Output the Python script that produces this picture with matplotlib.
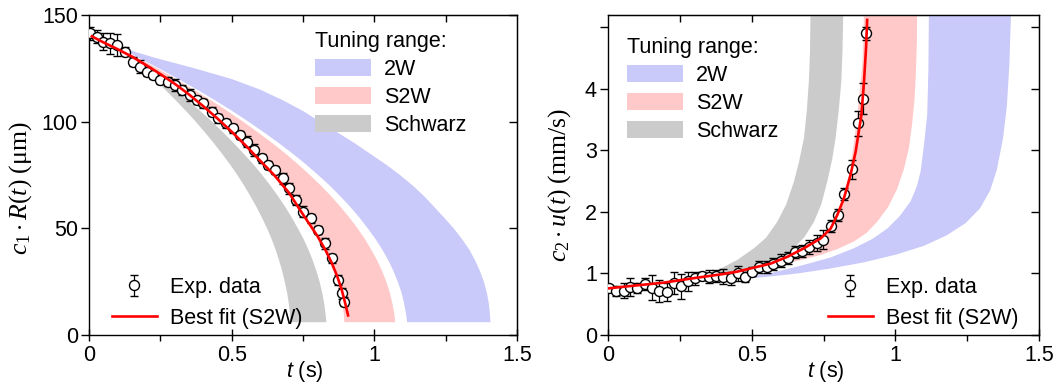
import numpy as np
import matplotlib
matplotlib.use("Agg")
import matplotlib.pyplot as plt
from matplotlib.patches import Patch

plt.rcParams['font.family'] = ['Liberation Sans', 'DejaVu Sans']
plt.rcParams['mathtext.fontset'] = 'custom'
plt.rcParams['mathtext.rm'] = 'Liberation Serif'
plt.rcParams['mathtext.it'] = 'Liberation Serif:italic'
plt.rcParams['mathtext.sf'] = 'Liberation Sans:italic'

# ---------------- data: left panel (radius) ----------------
t_R = [0.004, 0.027, 0.050, 0.074, 0.097, 0.126, 0.155, 0.179, 0.202, 0.225,
       0.249, 0.278, 0.301, 0.325, 0.354, 0.377, 0.401, 0.430, 0.453, 0.480,
       0.506, 0.529, 0.553, 0.578, 0.605, 0.628, 0.652, 0.679, 0.702, 0.726,
       0.751, 0.777, 0.804, 0.827, 0.851, 0.874, 0.886, 0.894]
R_exp = [141.4, 139.8, 137.5, 136.7, 135.9, 132.8, 128.1, 125.8, 123.4, 121.9,
         119.5, 118.8, 117.2, 114.8, 112.5, 110.2, 108.6, 104.7, 101.6, 99.2,
         96.9, 93.75, 90.6, 86.7, 82.8, 79.7, 77.3, 73.4, 68.75, 63.3,
         57.8, 54.7, 49.2, 43.0, 35.9, 25.8, 19.5, 15.6]
R_err = [3, 3, 4, 5, 5, 2, 2, 3, 2, 2, 2, 2, 3, 2.5, 3, 2, 2, 2, 2, 2,
         2, 2, 2.5, 3, 2, 2, 2, 2.5, 2.5, 2.5, 2.5, 2, 2, 2.5, 2, 2.5, 2.5, 2]

t_fitR = [0.01, 0.05, 0.1, 0.15, 0.2, 0.25, 0.3, 0.35, 0.4, 0.45, 0.5, 0.55,
          0.6, 0.65, 0.7, 0.75, 0.8, 0.83, 0.85, 0.87, 0.885, 0.895, 0.903, 0.908]
R_fit = [140.0, 137.2, 134.0, 130.5, 126.5, 122.3, 117.8, 112.8, 107.3, 101.5,
         95.3, 88.7, 81.7, 74.8, 66.8, 56.5, 46.5, 39.5, 34.0, 27.5, 21.5, 16.5,
         12.0, 9.2]

# tuning-range bands: t of each band edge at the radius levels R_band
R_band = [134, 130, 125, 120, 115, 110, 105, 100, 95, 90, 85, 80, 75, 70,
          65, 60, 55, 50, 45, 40, 35, 30, 25, 20, 15, 10, 6]
gray_L = [0.109, 0.144, 0.187, 0.227, 0.267, 0.304, 0.340, 0.374, 0.406, 0.437,
          0.466, 0.494, 0.520, 0.544, 0.566, 0.587, 0.606, 0.624, 0.640, 0.654,
          0.666, 0.677, 0.686, 0.694, 0.700, 0.704, 0.706]
gray_R = [0.111, 0.153, 0.205, 0.254, 0.301, 0.346, 0.390, 0.431, 0.470, 0.507,
          0.542, 0.576, 0.607, 0.636, 0.663, 0.688, 0.711, 0.732, 0.752, 0.769,
          0.784, 0.797, 0.808, 0.817, 0.824, 0.829, 0.832]
red_L = [0.112, 0.158, 0.214, 0.267, 0.319, 0.368, 0.415, 0.460, 0.502, 0.543,
         0.581, 0.617, 0.651, 0.683, 0.712, 0.740, 0.765, 0.788, 0.809, 0.827,
         0.843, 0.858, 0.870, 0.880, 0.887, 0.893, 0.895]
red_R = [0.114, 0.171, 0.239, 0.305, 0.367, 0.428, 0.485, 0.540, 0.592, 0.642,
         0.689, 0.733, 0.774, 0.813, 0.849, 0.882, 0.913, 0.941, 0.967, 0.989,
         1.010, 1.027, 1.042, 1.054, 1.063, 1.070, 1.073]
blue_L = [0.115, 0.174, 0.245, 0.313, 0.379, 0.442, 0.502, 0.559, 0.613, 0.665,
          0.714, 0.760, 0.803, 0.844, 0.881, 0.916, 0.948, 0.977, 1.004, 1.028,
          1.049, 1.067, 1.082, 1.095, 1.104, 1.111, 1.115]
blue_R = [0.13, 0.23, 0.37, 0.50, 0.60, 0.68, 0.75, 0.81, 0.87, 0.93,
          0.985, 1.04, 1.09, 1.135, 1.175, 1.21, 1.245, 1.278, 1.307, 1.333,
          1.353, 1.370, 1.384, 1.394, 1.401, 1.405, 1.407]

# ---------------- data: right panel (velocity) ----------------
t_u = [0.005, 0.028, 0.056, 0.077, 0.102, 0.129, 0.152, 0.177, 0.204, 0.230,
       0.253, 0.278, 0.304, 0.327, 0.353, 0.376, 0.401, 0.428, 0.454, 0.478,
       0.500, 0.527, 0.552, 0.575, 0.601, 0.625, 0.651, 0.674, 0.700, 0.726,
       0.749, 0.775, 0.802, 0.821, 0.848, 0.871, 0.889, 0.898]
u_exp = [0.77, 0.72, 0.72, 0.78, 0.77, 0.83, 0.77, 0.72, 0.70, 0.84,
         0.79, 0.87, 0.92, 0.96, 0.95, 0.96, 0.95, 0.92, 1.00, 0.94,
         1.03, 1.11, 1.11, 1.15, 1.21, 1.25, 1.35, 1.37, 1.43, 1.49,
         1.55, 1.77, 1.95, 2.29, 2.69, 3.44, 3.84, 4.90]
u_err = [0.05, 0.08, 0.12, 0.15, 0.08, 0.1, 0.2, 0.18, 0.15, 0.18,
         0.2, 0.15, 0.1, 0.07, 0.1, 0.1, 0.12, 0.1, 0.12, 0.08,
         0.07, 0.1, 0.1, 0.1, 0.1, 0.1, 0.1, 0.1, 0.12, 0.13,
         0.15, 0.1, 0.1, 0.1, 0.15, 0.2, 0.25, 0.1]

t_fitu = [0.0, 0.076, 0.193, 0.308, 0.40, 0.45, 0.566, 0.624, 0.682, 0.740,
          0.775, 0.798, 0.821, 0.844, 0.862, 0.873, 0.882, 0.891, 0.898, 0.902]
u_fit = [0.757, 0.795, 0.85, 0.93, 0.99, 1.03, 1.16, 1.27, 1.41, 1.57,
         1.73, 1.95, 2.22, 2.60, 2.98, 3.31, 3.58, 4.12, 4.66, 5.12]

# band edges in the right panel: (t, u) along each edge
gray_e1_t = [0.33, 0.392, 0.45, 0.508, 0.55, 0.589, 0.62, 0.647, 0.665, 0.682, 0.692, 0.699, 0.703, 0.705]
gray_e1_u = [0.95, 1.08, 1.22, 1.41, 1.58, 1.84, 2.12, 2.49, 2.82, 3.20, 3.65, 4.12, 4.6, 5.3]
gray_e2_t = [0.33, 0.43, 0.508, 0.566, 0.61, 0.647, 0.685, 0.717, 0.742, 0.763, 0.78, 0.792, 0.803, 0.812, 0.816, 0.819]
gray_e2_u = [0.95, 0.98, 1.03, 1.14, 1.26, 1.41, 1.6, 1.84, 2.12, 2.49, 2.85, 3.20, 3.65, 4.12, 4.6, 5.3]
red_e1_t = [0.45, 0.55, 0.624, 0.68, 0.740, 0.775, 0.80, 0.82, 0.835, 0.844, 0.857, 0.868, 0.877, 0.885, 0.889, 0.891]
red_e1_u = [1.02, 1.12, 1.25, 1.37, 1.52, 1.70, 1.90, 2.2, 2.5, 2.76, 3.15, 3.58, 4.0, 4.39, 4.8, 5.3]
red_e2_t = [0.45, 0.647, 0.740, 0.80, 0.856, 0.90, 0.937, 0.975, 1.007, 1.03, 1.047, 1.059, 1.067, 1.072, 1.075, 1.076]
red_e2_u = [1.02, 1.19, 1.30, 1.40, 1.52, 1.66, 1.84, 2.08, 2.38, 2.7, 3.03, 3.45, 3.85, 4.3, 4.8, 5.3]
blue_e1_t = [0.27, 0.36, 0.450, 0.57, 0.682, 0.775, 0.856, 0.92, 0.972, 1.015, 1.053, 1.075, 1.088, 1.10, 1.111, 1.115, 1.117]
blue_e1_u = [0.85, 0.88, 0.92, 1.01, 1.14, 1.26, 1.41, 1.56, 1.73, 1.93, 2.17, 2.42, 2.66, 3.1, 3.58, 4.3, 5.3]
blue_e2_t = [0.27, 0.40, 0.541, 0.66, 0.773, 0.89, 1.005, 1.10, 1.179, 1.245, 1.295, 1.33, 1.353, 1.375, 1.388, 1.397, 1.403]
blue_e2_u = [0.85, 0.89, 0.94, 1.0, 1.08, 1.18, 1.31, 1.45, 1.62, 1.82, 2.06, 2.35, 2.68, 3.2, 3.71, 4.4, 5.3]

C_BLUE = '#c9c9fa'
C_RED = '#ffc9c9'
C_GRAY = '#cbcbcb'
FS = 15.5

fig = plt.figure(figsize=(10.57, 3.87), dpi=100)
W, H = 1057, 387
axL = fig.add_axes([89 / W, (H - 335) / H, 428 / W, 320 / H])
axR = fig.add_axes([608 / W, (H - 335) / H, 431 / W, 320 / H])


def poly(ax, t1, y1, t2, y2, color):
    xs = list(t1) + list(t2)[::-1]
    ys = list(y1) + list(y2)[::-1]
    ax.fill(xs, ys, color=color, lw=0, zorder=1)


poly(axL, blue_L, R_band, blue_R, R_band, C_BLUE)
poly(axL, red_L, R_band, red_R, R_band, C_RED)
poly(axL, gray_L, R_band, gray_R, R_band, C_GRAY)
poly(axR, blue_e1_t, blue_e1_u, blue_e2_t, blue_e2_u, C_BLUE)
poly(axR, red_e1_t, red_e1_u, red_e2_t, red_e2_u, C_RED)
poly(axR, gray_e1_t, gray_e1_u, gray_e2_t, gray_e2_u, C_GRAY)

eb_kw = dict(fmt='o', ms=7.2, mfc='white', mec='black', mew=1.0, ecolor='black',
             elinewidth=0.9, capsize=3, capthick=0.9, zorder=3)
ebL = axL.errorbar(t_R, R_exp, yerr=R_err, **eb_kw)
fitL, = axL.plot(t_fitR, R_fit, color='#ff0000', lw=1.9, zorder=4)
ebR = axR.errorbar(t_u, u_exp, yerr=u_err, **eb_kw)
fitR, = axR.plot(t_fitu, u_fit, color='#ff0000', lw=1.9, zorder=4)

axL.set_ylim(0, 150)
axR.set_ylim(0, 5.2)
yt = {axL: [0, 50, 100, 150], axR: [0, 1, 2, 3, 4, 5]}

for ax in (axL, axR):
    ax.set_xlim(0, 1.5)
    ax.set_xticks([0, 0.5, 1, 1.5])
    ax.set_xticklabels(['0', '0.5', '1', '1.5'])
    ax.set_xticks([0.25, 0.75, 1.25], minor=True)
    ax.tick_params(axis='x', which='major', direction='inout', length=8, width=1,
                   labelsize=FS, pad=3)
    ax.tick_params(axis='x', which='minor', direction='out', length=4, width=1)
    ax.tick_params(axis='y', which='major', direction='out', length=6, width=1,
                   labelsize=FS, pad=2)
    ax.set_yticks(yt[ax])
    for s in ax.spines.values():
        s.set_linewidth(1.0)
    sx = ax.secondary_xaxis('top')
    sx.set_xticks([0.25, 0.5, 0.75, 1.0, 1.25])
    sx.tick_params(direction='in', length=5, width=1, labeltop=False, labelbottom=False)
    sy = ax.secondary_yaxis('right')
    sy.set_yticks(yt[ax])
    sy.tick_params(direction='in', length=6, width=1, labelright=False, labelleft=False)
    ax.set_xlabel(r'$\mathsf{t}$ (s)', fontsize=FS)
    ax.xaxis.set_label_coords(0.505, -0.075)

axR.set_yticklabels(['0', '1', '2', '3', '4', ''])

axL.set_ylabel(r'$c_1\cdot R(t)\ (\mathrm{μm})$', fontsize=18.5)
axL.yaxis.set_label_coords(-0.128, 0.46)
axR.set_ylabel(r'$c_2\cdot u(t)\ (\mathrm{mm/s})$', fontsize=18.5)
axR.yaxis.set_label_coords(-0.082, 0.47)

# legends
patches = [Patch(color=C_BLUE, lw=0), Patch(color=C_RED, lw=0), Patch(color=C_GRAY, lw=0)]
labels = ['2W', 'S2W', 'Schwarz']
leg_kw = dict(frameon=False, fontsize=FS, title_fontsize=FS, handlelength=2.6,
              handleheight=0.85, handletextpad=0.6, labelspacing=0.32,
              borderpad=0, borderaxespad=0, alignment='left')
lg1 = axL.legend(patches, labels, title='Tuning range:', loc='upper left',
                 bbox_to_anchor=(0.528, 0.95), **leg_kw)
axL.add_artist(lg1)
lg2 = axR.legend(patches, labels, title='Tuning range:', loc='upper left',
                 bbox_to_anchor=(0.044, 0.93), **leg_kw)
axR.add_artist(lg2)

leg2_kw = dict(frameon=False, fontsize=FS, handlelength=2.1, handletextpad=0.6,
               labelspacing=0.45, borderpad=0, borderaxespad=0)
axL.legend([ebL, fitL], ['Exp. data', 'Best fit (S2W)'], loc='lower left',
           bbox_to_anchor=(0.053, 0.02), **leg2_kw)
axR.legend([ebR, fitR], ['Exp. data', 'Best fit (S2W)'], loc='lower left',
           bbox_to_anchor=(0.51, 0.02), **leg2_kw)

fig.savefig('out.png', dpi=100)
